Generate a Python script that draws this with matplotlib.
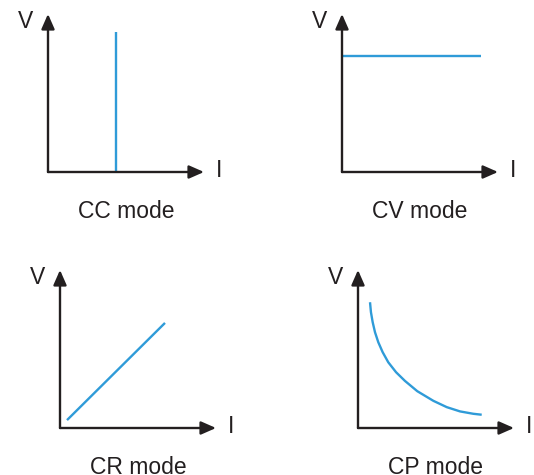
import numpy as np
import matplotlib
matplotlib.use("Agg")
from matplotlib import pyplot as plt

# data, in units of the drawn axis length (arrow tip = 1)
cc_i = [0.436, 0.436]
cc_v = [0.0, 0.886]

cv_i = [0.0, 0.891]
cv_v = [0.734, 0.734]

cr_i = [0.045, 0.673]
cr_v = [0.050, 0.665]

cp_i = [0.077, 0.083, 0.094, 0.109, 0.130, 0.158, 0.194, 0.244, 0.301,
        0.380, 0.483, 0.569, 0.654, 0.739, 0.793]
cp_v = [0.796, 0.733, 0.670, 0.606, 0.543, 0.480, 0.416, 0.353, 0.298,
        0.233, 0.172, 0.132, 0.105, 0.090, 0.084]

titulos = ["CC mode", "CV mode", "CR mode", "CP mode"]
series = [(cc_i, cc_v), (cv_i, cv_v), (cr_i, cr_v), (cp_i, cp_v)]

azul = "#2f9bd8"
negro = "#231f20"

plt.rcParams["font.family"] = ["Liberation Sans", "DejaVu Sans"]

W, H = 534, 475
figura = plt.figure(figsize=(W / 100, H / 100), dpi=100)

# origen de cada panel en pixeles y largo de los ejes
origenes = [(48, 172), (342, 172), (60, 428), (358, 428)]
largo_x, largo_y = 156, 158


def panel(ox, oy, titulo, xi, yi):
    ax = figura.add_axes([ox / W, (H - oy) / H, largo_x / W, largo_y / H])
    ax.set_xlim(0, 1)
    ax.set_ylim(0, 1)
    ax.axis("off")
    flecha = dict(arrowstyle="-|>,head_length=0.5,head_width=0.22",
                  mutation_scale=18, lw=1.7, color=negro,
                  shrinkA=0, shrinkB=0)
    ax.annotate("", xy=(1, 0), xytext=(0, 0), arrowprops=flecha,
                annotation_clip=False)
    ax.annotate("", xy=(0, 1), xytext=(0, 0), arrowprops=flecha,
                annotation_clip=False)
    ax.plot(xi, yi, color=azul, lw=1.7, clip_on=False,
            solid_capstyle="butt", solid_joinstyle="round")
    ax.text(-0.145, 0.95, "V", fontsize=16.5, ha="center", va="center",
            color=negro)
    ax.text(1.095, 0.01, "I", fontsize=16.5, ha="center", va="center",
            color=negro)
    ax.text(0.5, -0.25, titulo, fontsize=16.5, ha="center", va="center",
            color=negro)
    return ax


for k in range(4):
    ox, oy = origenes[k]
    xi, yi = series[k]
    panel(ox, oy, titulos[k], xi, yi)

figura.savefig("out.png", dpi=100)
